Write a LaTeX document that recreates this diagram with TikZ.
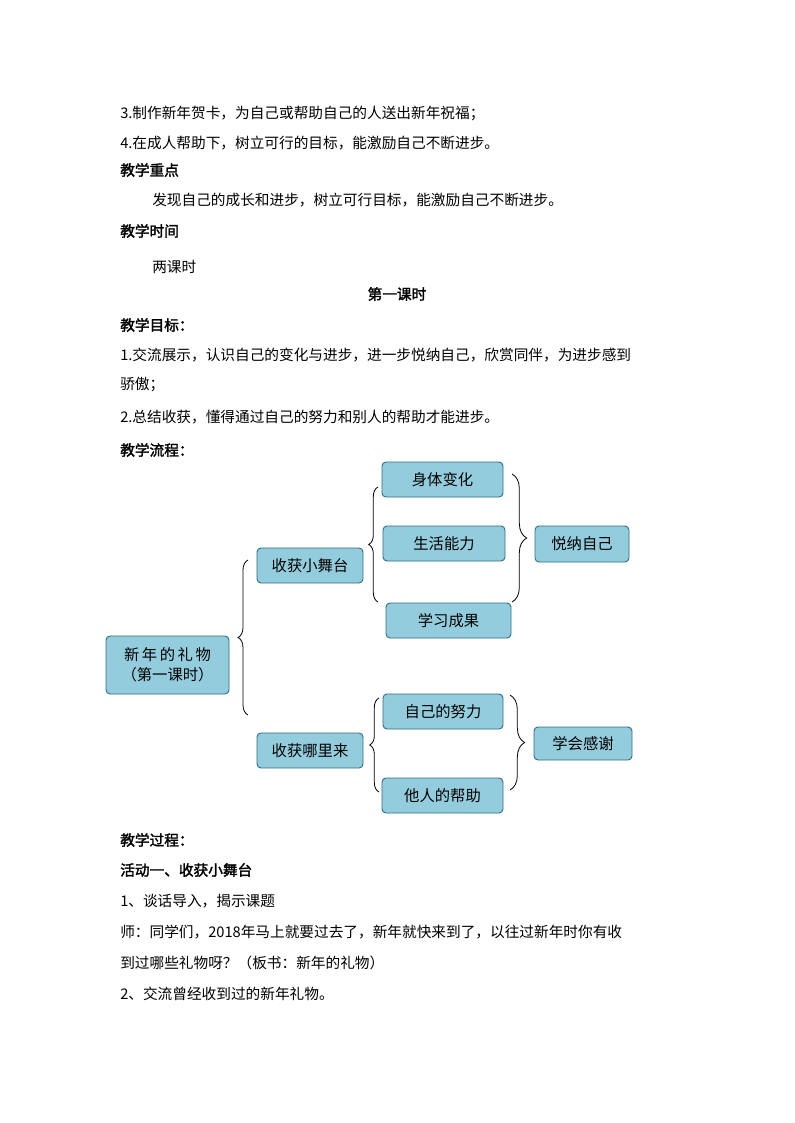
\documentclass[tikz,border=0pt]{standalone}
\usepackage{fontspec}
\setmainfont{Noto Sans CJK SC}[AutoFakeBold=2]
\usetikzlibrary{decorations.pathreplacing}
\begin{document}
\begin{tikzpicture}[x=0.75pt,y=-0.75pt,
  txt/.style={anchor=west,inner sep=0,font=\fontsize{11}{13}\selectfont},
  hd/.style={txt,font=\fontsize{11}{13}\selectfont\bfseries},
  bx/.style={draw=black!60!cyan!70!black,fill=cyan!25!blue!10!white,fill=boxfill,draw=boxline,rounded corners=3pt,line width=0.7pt,inner sep=0,font=\fontsize{11.5}{15}\selectfont},
  br/.style={draw=black,line width=0.6pt,decorate,decoration={brace,amplitude=#1}}]
\definecolor{boxfill}{RGB}{147,205,221}
\definecolor{boxline}{RGB}{49,110,130}
\useasboundingbox (0,0) rectangle (794,1123);
\node[txt] (l1) at (120,113) {3.制作新年贺卡，为自己或帮助自己的人送出新年祝福；};
\node[txt] (l2) at (120,143) {4.在成人帮助下，树立可行的目标，能激励自己不断进步。};
\node[hd] (l3) at (120,170) {教学重点};
\node[txt] (l4) at (152,200) {发现自己的成长和进步，树立可行目标，能激励自己不断进步。};
\node[hd] (l5) at (120,231) {教学时间};
\node[txt] (l6) at (152,267) {两课时};
\node[hd,anchor=center] (l7) at (397,294) {第一课时};
\node[hd] (l8) at (120,325) {教学目标：};
\node[txt] (l9) at (120,355) {1.交流展示，认识自己的变化与进步，进一步悦纳自己，欣赏同伴，为进步感到};
\node[txt] (l10) at (120,385) {骄傲；};
\node[txt] (l11) at (120,417) {2.总结收获，懂得通过自己的努力和别人的帮助才能进步。};
\node[hd] (l12) at (120,450) {教学流程：};
\node[hd] (l13) at (120,840) {教学过程：};
\node[hd] (l14) at (120,870) {活动一、收获小舞台};
\node[txt] (l15) at (120,901) {1、谈话导入，揭示课题};
\node[txt] (l16) at (120,932) {师：同学们，2018年马上就要过去了，新年就快来到了，以往过新年时你有收};
\node[txt] (l17) at (120,963) {到过哪些礼物呀？（板书：新年的礼物）};
\node[txt] (l18) at (120,994) {2、交流曾经收到过的新年礼物。};
% boxes
\node[bx,minimum width=123*0.75pt,minimum height=58*0.75pt,align=center] (root) at (167.5,665) {新\,年\,的\,礼\,物\\（第一课时）};
\node[bx,minimum width=106*0.75pt,minimum height=35*0.75pt] (a) at (310,565.5) {收获小舞台};
\node[bx,minimum width=106*0.75pt,minimum height=35*0.75pt] (b) at (310,750.5) {收获哪里来};
\node[bx,minimum width=121*0.75pt,minimum height=35*0.75pt] (a1) at (442.5,479.5) {身体变化};
\node[bx,minimum width=122*0.75pt,minimum height=35*0.75pt] (a2) at (444,543.5) {生活能力};
\node[bx,minimum width=125*0.75pt,minimum height=35*0.75pt] (a3) at (448.5,620.5) {学习成果};
\node[bx,minimum width=94*0.75pt,minimum height=36*0.75pt] (ar) at (582,544) {悦纳自己};
\node[bx,minimum width=120*0.75pt,minimum height=35*0.75pt] (b1) at (443,711.5) {自己的努力};
\node[bx,minimum width=121*0.75pt,minimum height=35*0.75pt] (b2) at (442.5,795.5) {他人的帮助};
\node[bx,minimum width=98*0.75pt,minimum height=33*0.75pt] (br2) at (583,743.5) {学会感谢};
% braces
\coordinate (c1) at (248,715); \coordinate (c2) at (248,560);
\draw[br=7.5pt] (c1) -- (c2);
\coordinate (c3) at (378,602); \coordinate (c4) at (378,487);
\draw[br=7pt] (c3) -- (c4);
\coordinate (c5) at (512,474); \coordinate (c6) at (512,602);
\draw[br=11pt] (c5) -- (c6);
\coordinate (c7) at (379,792); \coordinate (c8) at (379,698);
\draw[br=7pt] (c7) -- (c8);
\coordinate (c9) at (510,695); \coordinate (c10) at (510,790);
\draw[br=11pt] (c9) -- (c10);
\end{tikzpicture}
\end{document}
